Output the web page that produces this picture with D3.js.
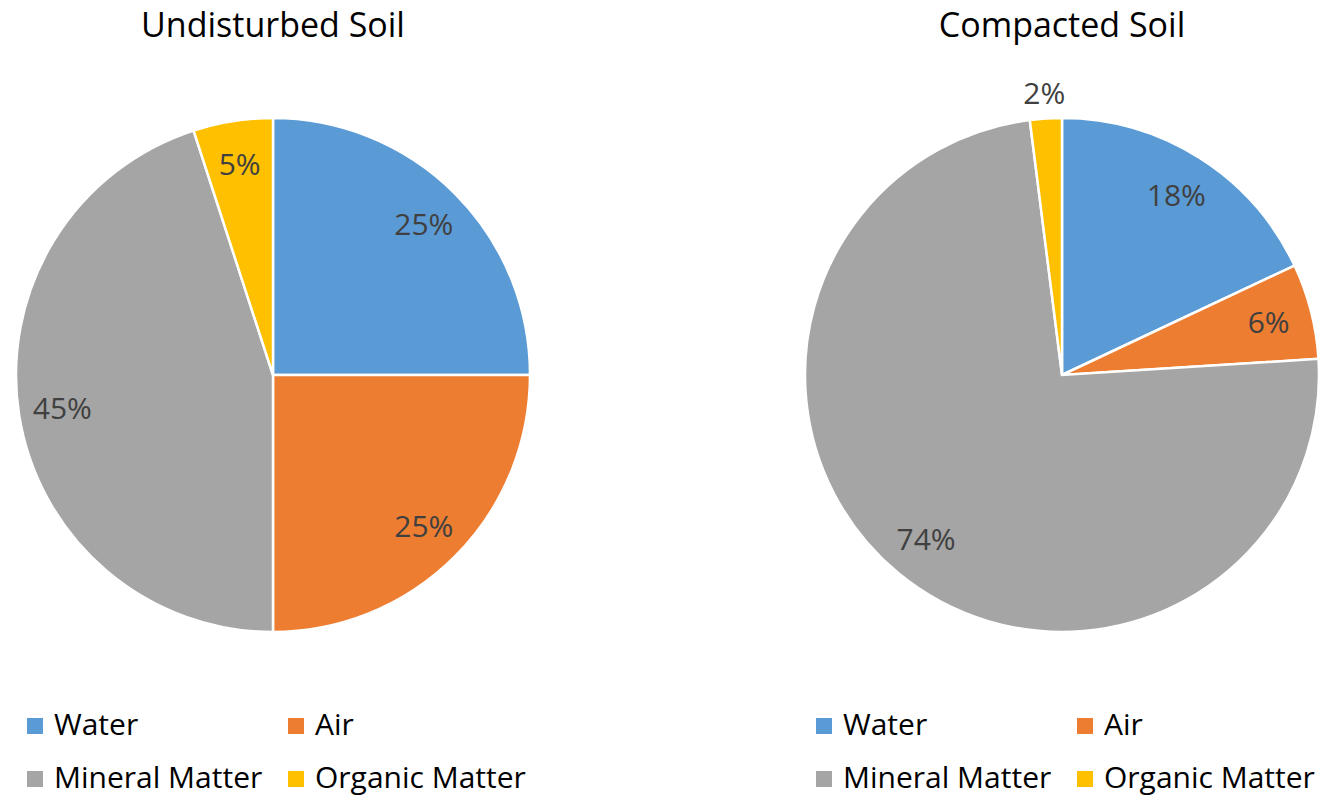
<!DOCTYPE html>
<html>
<head>
<meta charset="utf-8">
<script src="https://cdn.jsdelivr.net/npm/d3@7"></script>
<style>
  body { margin: 0; background: #fff; }
  svg text { font-family: "Open Sans", Carlito, Calibri, sans-serif; }
</style>
</head>
<body>
<svg width="1338" height="799"></svg>
<script>
var categories = ["Water", "Air", "Mineral Matter", "Organic Matter"];
var undisturbed = [25, 25, 45, 5];
var compacted = [18, 6, 74, 2];
var titles = ["Undisturbed Soil", "Compacted Soil"];

var colors = ["#5B9BD5", "#ED7D31", "#A5A5A5", "#FFC000"];

var svg = d3.select("svg"),
    width = +svg.attr("width"),
    height = +svg.attr("height");

var radius = 257;
var color = d3.scaleOrdinal().domain(categories).range(colors);

var pie = d3.pie()
    .sort(null)
    .value(function(d) { return d.value; });

var arc = d3.arc().innerRadius(0).outerRadius(radius);
var labelArc = d3.arc().innerRadius(radius * 0.83).outerRadius(radius * 0.83);
var outerArc = d3.arc().innerRadius(radius * 1.1).outerRadius(radius * 1.1);

function drawPie(cx, values, title) {
  var data = categories.map(function(c, i) { return {name: c, value: values[i]}; });
  var total = d3.sum(values);

  svg.append("text")
      .attr("x", cx)
      .attr("y", 37)
      .attr("text-anchor", "middle")
      .attr("font-size", 34)
      .attr("fill", "#000")
      .text(title);

  var g = svg.append("g")
      .attr("transform", "translate(" + cx + ",375)");

  var arcs = pie(data);

  g.selectAll("path")
    .data(arcs)
    .enter().append("path")
      .attr("d", arc)
      .attr("fill", function(d) { return color(d.data.name); })
      .attr("stroke", "#fff")
      .attr("stroke-width", 2.5);

  g.selectAll("text.lbl")
    .data(arcs)
    .enter().append("text")
      .attr("class", "lbl")
      .attr("transform", function(d) {
        var p = (d.data.value / total < 0.03 ? outerArc : labelArc).centroid(d);
        return "translate(" + p + ")";
      })
      .attr("text-anchor", "middle")
      .attr("dy", "0.36em")
      .attr("font-size", 30)
      .attr("fill", "#404040")
      .text(function(d) { return Math.round(d.data.value / total * 100) + "%"; });

  // legend, two columns
  var legend = svg.append("g")
      .attr("transform", "translate(" + (cx - 246) + ",0)");

  var item = legend.selectAll("g")
    .data(categories)
    .enter().append("g")
      .attr("transform", function(d, i) {
        return "translate(" + ((i % 2) * 261) + "," + (735 + Math.floor(i / 2) * 53) + ")";
      });

  item.append("rect")
      .attr("x", 0)
      .attr("y", -17)
      .attr("width", 16)
      .attr("height", 16)
      .attr("fill", function(d) { return color(d); });

  item.append("text")
      .attr("x", 27)
      .attr("y", 0)
      .attr("font-size", 30)
      .attr("fill", "#000")
      .text(function(d) { return d; });
}

drawPie(273, undisturbed, titles[0]);
drawPie(1062, compacted, titles[1]);
</script>
</body>
</html>
